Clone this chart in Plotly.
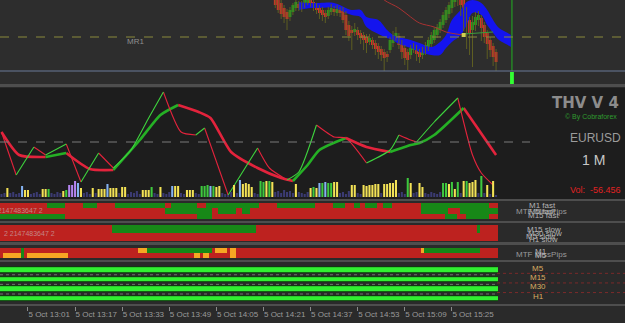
import plotly.graph_objects as go

W, H = 625, 323

# ---------------- time axis: minutes after 12:45 (5 Oct), one bar per minute ----------------
tick_minutes = [0, 16, 32, 48, 64, 80, 96, 112, 128, 144, 160]
tick_labels = ["5 Oct 12:45", "5 Oct 13:01", "5 Oct 13:17", "5 Oct 13:33", "5 Oct 13:49",
               "5 Oct 14:05", "5 Oct 14:21", "5 Oct 14:37", "5 Oct 14:53", "5 Oct 15:09",
               "5 Oct 15:25"]
x_view = [6.5, 218.8]
bars = list(range(7, 176))

# ---------------- main price window (points, only lower part visible) ----------------
candle_t = list(range(100, 176))
opens = [76, 73, 68, 63, 59, 54, 59, 63, 67, 62, 66, 68, 73, 69, 66, 63, 61, 58, 55, 59,
         62, 58, 61, 61, 56, 46, 41, 39, 41, 38, 36, 34, 29, 31, 28, 25, 22, 19, 17, 21,
         28, 33, 35, 29, 23, 19, 16, 21, 23, 19, 16, 19, 23, 27, 31, 36, 41, 46, 51, 57,
         63, 69, 76, 73, 71, 61, 51, 41, 46, 51, 53, 46, 38, 31, 25, 19]
closes = [66, 61, 57, 54, 52, 61, 66, 69, 63, 67, 71, 74, 67, 64, 61, 58, 56, 54, 61, 63,
          59, 62, 58, 51, 41, 35, 38, 42, 36, 33, 31, 28, 33, 26, 22, 19, 16, 13, 14, 31,
          36, 38, 26, 19, 13, 11, 23, 25, 17, 14, 21, 26, 31, 36, 41, 44, 49, 56, 61, 66,
          71, 76, 71, 66, 59, 49, 38, 49, 54, 56, 43, 34, 27, 21, 14, 9]
highs = [79, 77, 72, 66, 62, 64, 68, 72, 70, 70, 74, 77, 75, 72, 68, 66, 64, 61, 64, 67,
         65, 66, 64, 64, 60, 50, 45, 48, 44, 41, 39, 37, 37, 34, 31, 28, 25, 22, 20, 34,
         40, 44, 38, 31, 26, 22, 26, 28, 26, 22, 24, 29, 34, 39, 44, 47, 52, 59, 64, 69,
         74, 79, 79, 76, 74, 64, 54, 55, 59, 60, 56, 49, 41, 34, 28, 22]
lows = [63, 58, 52, 48, 41, 50, 56, 60, 60, 59, 63, 66, 64, 60, 57, 52, 50, 48, 52, 56,
        55, 55, 54, 48, 36, 30, 21, 35, 31, 27, 21, 18, 26, 22, 16, 12, 10, 0, 9, 18,
        24, 30, 22, 12, 6, 1, 12, 18, 10, 8, 12, 16, 20, 24, 28, 33, 38, 43, 48, 53,
        58, 64, 65, 55, 40, 22, 16, 4, 40, 45, 30, 28, 12, 14, 5, 0]

cloud_t = [108, 112, 115, 120, 124, 126, 129, 131, 135, 138, 140, 142, 146, 149, 153, 156,
           158, 160, 163, 165, 167, 170, 172, 174, 176, 179, 180]
cloud_upper = [69, 68, 68, 68, 63, 61, 61, 54, 51, 41, 36, 34, 31, 28, 24, 29, 36, 51, 61,
               69, 71, 68, 61, 51, 43, 38, 36]
cloud_lower = [61, 63, 63, 63, 58, 56, 54, 44, 37, 33, 31, 27, 23, 19, 16, 16, 23, 29, 36,
               46, 58, 56, 46, 38, 31, 26, 24]

ma_t = [134, 137, 142, 146, 149, 154, 158, 164]
ma_v = [80, 71, 63, 54, 48, 44, 39, 36]
sig_t = [164, 174]
sig_v = [37, 39]
mr1_level = 34
current_bar_t = 180.4
current_bar_vol = [1.0]

# ---------------- THV oscillator ----------------
fast_t = [7, 12, 18, 22, 29, 34, 40, 45, 51, 57, 62, 68, 73, 76, 84, 94, 98, 104, 108, 114,
          120, 124, 131, 139, 142, 146, 148, 154, 162, 167, 170, 174]
fast_v = [10, -33, -5, -13, -2, -40, -11, -26, -8, 24, 50, 10, 7, 14, -53, -6, -26, -38, -30,
          17, 5, 4, -21, -8, 7, 2, 0, 20, 44, -13, -31, -43]
slow_t = [7, 13, 22, 29, 37, 45, 54, 61, 67, 74, 78, 85, 94, 102, 106, 111, 115, 124, 131,
          139, 146, 149, 154, 164, 175]
slow_v = [10, -13, -15, -11, -27, -28, 2, 27, 37, 30, 24, -10, -26, -36, -39, -23, -8, 4,
          -5, -10, -3, -1, 7, 34, -13]

vol_h = [3, 4, 9, 4, 5, 3, 4, 11, 7, 7,
         3, 4, 5, 3, 8, 8, 8, 4, 3, 5,
         4, 6, 7, 12, 12, 16, 14, 9, 4, 5,
         3, 9, 4, 8, 8, 8, 13, 9, 9, 9,
         4, 10, 10, 3, 5, 4, 6, 3, 7, 7,
         7, 10, 4, 3, 10, 4, 3, 5, 11, 11,
         11, 4, 3, 7, 7, 7, 4, 3, 11, 11,
         12, 11, 11, 10, 11, 4, 3, 2, 5, 12,
         4, 17, 13, 14, 13, 10, 4, 3, 16, 15,
         16, 16, 15, 5, 6, 4, 7, 5, 6, 4,
         13, 5, 4, 3, 5, 9, 10, 9, 14, 14,
         15, 14, 14, 15, 15, 4, 5, 3, 6, 12,
         12, 4, 3, 12, 11, 12, 12, 13, 13, 4,
         13, 13, 14, 14, 17, 4, 5, 3, 19, 14,
         4, 5, 14, 10, 4, 3, 5, 4, 3, 5,
         14, 14, 13, 15, 8, 15, 4, 16, 16, 14,
         15, 17, 4, 21, 4, 12, 3, 16, 2]
vol_kind = list("nnynnnnbyy" "nnnnyygnnn" "nygpppbynn" "nynyyybyyy" "nyynnnnnyy"
                "ygnnynnnby" "ynnyyynngg" "gbgyynnnny" "nbyyyynngg" "ygynnnnnnn"
                "ynnnnygybg" "bggyynnnny" "ynnyyyyyyn" "yyyyynnngy" "nnyynnnnnn"
                "ggygygnygy" "yyngnynyn")
thv_vol_text = "Vol:  -56.456"

# ---------------- MTF panels: green / orange intervals (start, end) in minutes, rest red ----------------
mtf1_top_green = [(23, 29), (35, 40), (46, 63), (65, 74), (77, 95), (101, 114), (120, 124),
                  (127, 129), (131, 135), (137, 140), (150, 173)]
mtf1_mid_green = [(63, 79), (81, 87), (89, 92), (150, 159), (163, 176)]
mtf1_bot_green = [(7, 29), (74, 79), (158, 162), (165, 173)]
mtf2_top_green = [(45, 94), (169, 170)]
mtf2_bot_green = []
mtf3_top_green = [(14, 15), (57, 79), (151, 170)]
mtf3_top_orange = [(54, 57), (80, 84), (85, 87), (150, 151)]
mtf3_bot_green = [(14, 15)]
mtf3_bot_orange = [(8, 14), (16, 30), (73, 75), (76, 78), (85, 87)]
tf_names = ["M5", "M15", "M30", "H1"]
tf_levels = [4, 3, 2, 1]
tf_state_up = [1, 1, 1, 1]

# ======================================================================
def py(p):
    return 1 - p / H


def dom(p0, p1):
    return [py(p1), py(p0)]


RED = "#e3233c"
fig = go.Figure()

# --- price window ---
fig.add_trace(go.Scatter(x=cloud_t, y=cloud_lower, mode="lines", line=dict(color="#1414ee", width=0),
                         line_shape="spline", yaxis="y", showlegend=False, hoverinfo="skip"))
fig.add_trace(go.Scatter(x=cloud_t, y=cloud_upper, mode="lines", line=dict(color="#1414ee", width=0),
                         line_shape="spline", fill="tonexty", fillcolor="#1414ee", yaxis="y",
                         showlegend=False, hoverinfo="skip"))
wx, wy = [], []
for t, hi, lo in zip(candle_t, highs, lows):
    wx += [t, t, None]
    wy += [lo, hi, None]
fig.add_trace(go.Scatter(x=wx, y=wy, mode="lines", line=dict(color="#5e5e22", width=1),
                         yaxis="y", showlegend=False, hoverinfo="skip"))
fig.add_trace(go.Bar(x=candle_t, y=[c - o for o, c in zip(opens, closes)], base=opens, width=0.95,
                     marker=dict(color=["#1faa1f" if c > o else "#e2302a" for o, c in zip(opens, closes)],
                                 line=dict(width=0)),
                     yaxis="y", showlegend=False))
fig.add_trace(go.Scatter(x=ma_t, y=ma_v, mode="lines", line=dict(color="#a83232", width=1),
                         line_shape="spline", yaxis="y", showlegend=False))
fig.add_trace(go.Scatter(x=sig_t, y=sig_v, mode="lines", line=dict(color="#3c9c3c", width=1),
                         yaxis="y", showlegend=False))
fig.add_trace(go.Scatter(x=[ma_t[-1]], y=[ma_v[-1]], mode="markers",
                         marker=dict(color="#d0d050", size=4, symbol="square"), yaxis="y", showlegend=False))
fig.add_trace(go.Scatter(x=[current_bar_t, current_bar_t], y=[0, 80], mode="lines",
                         line=dict(color="#22b022", width=1), yaxis="y", showlegend=False))
fig.add_trace(go.Bar(x=[current_bar_t], y=current_bar_vol, width=1.3,
                     marker=dict(color="#33ff33", line=dict(width=0)), yaxis="y2", showlegend=False))

# --- oscillator volumes ---
kind_color = {"n": "#3b3b72", "y": "#f3e256", "g": "#3ec83e", "b": "#84b2f0", "p": "#b384ee"}
fig.add_trace(go.Bar(x=bars, y=vol_h, width=0.7,
                     marker=dict(color=[kind_color[k] for k in vol_kind], line=dict(width=0)),
                     yaxis="y4", showlegend=False))


# --- oscillator lines coloured by direction ---
def split_dir(ts, vs):
    up_x, up_y, dn_x, dn_y = [], [], [], []
    for i in range(len(ts) - 1):
        seg_x = [ts[i], ts[i + 1]]
        seg_y = [vs[i], vs[i + 1]]
        if vs[i + 1] > vs[i]:
            if up_x and up_x[-1] == ts[i]:
                up_x.append(ts[i + 1]); up_y.append(vs[i + 1])
            else:
                up_x += [None] + seg_x; up_y += [None] + seg_y
        else:
            if dn_x and dn_x[-1] == ts[i]:
                dn_x.append(ts[i + 1]); dn_y.append(vs[i + 1])
            else:
                dn_x += [None] + seg_x; dn_y += [None] + seg_y
    return up_x, up_y, dn_x, dn_y


for ts, vs, wdt, gcol in [(slow_t, slow_v, 2.6, "#25b025"), (fast_t, fast_v, 1.1, "#3ed43e")]:
    ux, uy, dx, dy = split_dir(ts, vs)
    fig.add_trace(go.Scatter(x=dx, y=dy, mode="lines", line=dict(color=RED, width=wdt, shape="spline",
                                                                  smoothing=0.6),
                             connectgaps=False, yaxis="y3", showlegend=False))
    fig.add_trace(go.Scatter(x=ux, y=uy, mode="lines", line=dict(color=gcol, width=wdt, shape="spline",
                                                                  smoothing=0.6),
                             connectgaps=False, yaxis="y3", showlegend=False))


# --- MTF heatmaps ---
def row_from(green, orange=()):
    row = []
    for t in bars:
        s = 0
        for a, b in green:
            if a <= t < b:
                s = 1
        for a, b in orange:
            if a <= t < b:
                s = 2
        row.append(s)
    return row


cs = [[0, "#bd221f"], [0.33, "#bd221f"], [0.34, "#178817"], [0.66, "#178817"],
      [0.67, "#f6a623"], [1, "#f6a623"]]
for z, ax in [([row_from(mtf1_bot_green), row_from(mtf1_mid_green), row_from(mtf1_top_green)], "y5"),
              ([row_from(mtf2_bot_green), row_from(mtf2_top_green)], "y6"),
              ([row_from(mtf3_bot_green, mtf3_bot_orange), row_from(mtf3_top_green, mtf3_top_orange)], "y7")]:
    fig.add_trace(go.Heatmap(x=bars, y=list(range(len(z))), z=z, zmin=0, zmax=2, colorscale=cs,
                             showscale=False, yaxis=ax, hoverinfo="skip"))

# --- MTF trend rows ---
zz = [[s] * len(bars) for s in tf_state_up]
fig.add_trace(go.Heatmap(x=bars, y=tf_levels, z=zz, zmin=0, zmax=1,
                         colorscale=[[0, "#0e3c0e"], [1, "#0e3c0e"]], ygap=3, showscale=False,
                         yaxis="y8", hoverinfo="skip"))
fig.add_trace(go.Heatmap(x=bars, y=tf_levels, z=zz, zmin=0, zmax=1,
                         colorscale=[[0, "#31f031"], [1, "#31f031"]], ygap=5, showscale=False,
                         yaxis="y8", hoverinfo="skip"))

# ---------------- shapes (panel backgrounds / separators / levels) ----------------
shapes = []


def rect(p0, p1, color, x0=0, x1=W, layer="below"):
    shapes.append(dict(type="rect", xref="paper", yref="paper", x0=x0 / W, x1=x1 / W,
                       y0=py(p1), y1=py(p0), fillcolor=color, line=dict(width=0), layer=layer))


rect(0, 84, "#2d2d2d")
rect(88, 199, "#1d1d1d")
for a, b in [(84, 87), (199, 201), (221, 223), (242, 245), (260, 262), (304, 306)]:
    rect(a, b, "#4e4e4e")
shapes.append(dict(type="line", xref="paper", yref="paper", x0=0, x1=1, y0=py(71), y1=py(71),
                   line=dict(color="#6a7a98", width=1)))
shapes.append(dict(type="line", xref="paper", yref="y", x0=0, x1=1, y0=mr1_level, y1=mr1_level,
                   line=dict(color="#8a8a3c", width=1, dash="dash")))
shapes.append(dict(type="line", xref="paper", yref="y3", x0=0, x1=530 / W, y0=0, y1=0,
                   line=dict(color="#7a7a7a", width=1, dash="dash")))
for lv in [3.5, 2.5, 1.5]:
    shapes.append(dict(type="line", xref="paper", yref="y8", x0=0, x1=497 / W, y0=lv, y1=lv,
                       line=dict(color="#6a7a6a", width=1, dash="dot"), layer="below"))
    shapes.append(dict(type="line", xref="paper", yref="y8", x0=497 / W, x1=1, y0=lv + 0.15, y1=lv + 0.15,
                       line=dict(color="#7a2a2a", width=1, dash="dot")))

# ---------------- annotations ----------------
anns = []
FONT = "Liberation Sans"


def ann(x, y, text, size=8, color="#a8a8a8", xa="left", bold=False, family=FONT):
    t = "<b>%s</b>" % text if bold else text
    anns.append(dict(x=x / W, y=py(y), xref="paper", yref="paper", text=t, showarrow=False,
                     xanchor=xa, yanchor="middle", font=dict(size=size, color=color, family=family)))


ann(125, 42, "MR1", 8, "#8e8e8e")
ann(621, 103, "THV V 4", 15, "#8c8c8c", "right", True, "DejaVu Sans")
ann(619, 117, "© By Cobraforex", 7, "#2f9c2f", "right")
ann(623, 138, "EURUSD", 12, "#9c9c9c", "right")
ann(607, 160, "1 M", 14, "#c8c8c8", "right")
ann(623, 190, thv_vol_text, 9, "#e02222", "right")
ann(-10, 210, "2 2147483647 2", 7, "rgba(200,170,170,0.75)")
ann(2, 233, "2 2147483647 2", 7, "rgba(200,170,170,0.75)")
ann(514, 211, "MTF MissPips", 8, "#9a9a9a")
ann(527, 205, "M1 fast", 8, "#b4b4b4")
ann(527, 211, "M5 fast", 8, "#b4b4b4")
ann(526, 216, "M15 fast", 8, "#b4b4b4")
ann(525, 229, "M15 slow", 8, "#b4b4b4")
ann(526, 233, "M30 slow", 8, "#b4b4b4")
ann(524, 236, "M5 slow", 8, "#b4b4b4")
ann(527, 239, "H1 slow", 8, "#b4b4b4")
ann(514, 254, "MTF MissPips", 8, "#9a9a9a")
ann(533, 251, "M1", 8, "#b4b4b4")
ann(533, 255, "M5", 8, "#b4b4b4")
for name, p in zip(tf_names, [268, 277, 286, 296]):
    ann(538, p, name, 8, "#d9ad62", "center")
# partially visible first time label (its tick lies left of the window)
anns.append(dict(x=tick_minutes[0], y=py(315), xref="x", yref="paper", text=tick_labels[0],
                 showarrow=False, xanchor="left", yanchor="middle", xshift=1,
                 font=dict(size=8, color="#9a9a9a", family=FONT)))

hidden = dict(visible=False, showgrid=False, zeroline=False, fixedrange=True)
fig.update_layout(
    width=W, height=H, margin=dict(l=0, r=0, t=0, b=0, pad=0, autoexpand=False),
    paper_bgcolor="#2a2a2a", plot_bgcolor="rgba(0,0,0,0)",
    barmode="overlay", showlegend=False,
    xaxis=dict(range=x_view, anchor="free", position=py(306), showgrid=False, zeroline=False,
               showline=False, ticks="outside", ticklen=4, tickcolor="#8a8a8a", tickangle=0,
               automargin=False,
               tickvals=tick_minutes, ticktext=tick_labels, ticklabelposition="outside right",
               tickfont=dict(size=8, color="#9a9a9a", family=FONT)),
    yaxis=dict(domain=dom(0, 71), range=[0, 71], **hidden),
    yaxis2=dict(domain=dom(72, 84), range=[0, 1], **hidden),
    yaxis3=dict(domain=dom(88, 199), range=[-57, 54], **hidden),
    yaxis4=dict(domain=dom(88, 199), range=[-2, 109], overlaying="y3", **hidden),
    yaxis5=dict(domain=dom(203, 219), range=[-0.5, 2.5], **hidden),
    yaxis6=dict(domain=dom(225, 241), range=[-0.5, 1.5], **hidden),
    yaxis7=dict(domain=dom(248, 258), range=[-0.5, 1.5], **hidden),
    yaxis8=dict(domain=dom(262, 304), range=[0.46, 4.83], **hidden),
    shapes=shapes, annotations=anns,
)
fig.write_html("out.html")
